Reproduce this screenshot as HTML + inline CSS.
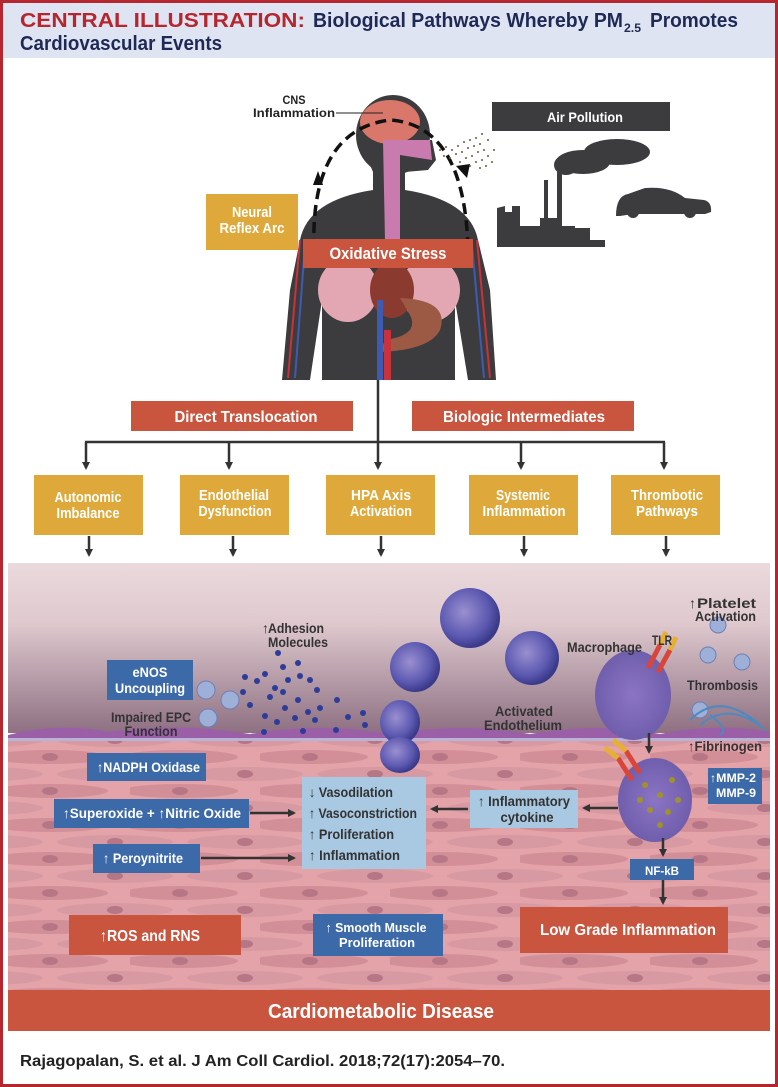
<!DOCTYPE html>
<html><head><meta charset="utf-8"><style>
html,body{margin:0;padding:0;background:#fff}
svg{display:block}
text{font-family:"Liberation Sans Narrow","Liberation Sans",sans-serif;font-weight:bold}
</style></head><body>
<svg width="778" height="1087" viewBox="0 0 778 1087" xmlns="http://www.w3.org/2000/svg">
<defs>
<linearGradient id="lum" x1="0" y1="0" x2="0" y2="1">
<stop offset="0" stop-color="#ead9dd"/><stop offset="0.35" stop-color="#dfc9ce"/><stop offset="0.75" stop-color="#ad93a0"/><stop offset="1" stop-color="#8e7082"/></linearGradient>
<radialGradient id="cell" cx="0.4" cy="0.4" r="0.6"><stop offset="0" stop-color="#9a8fd0"/><stop offset="0.7" stop-color="#5b58b0"/><stop offset="1" stop-color="#3a3a8a"/></radialGradient>
<radialGradient id="mac" cx="0.5" cy="0.5" r="0.6"><stop offset="0" stop-color="#8b74c4"/><stop offset="1" stop-color="#6a5aa8"/></radialGradient>
<marker id="ah" markerWidth="8" markerHeight="8" refX="6" refY="4" orient="auto" markerUnits="userSpaceOnUse"><path d="M0,0 L8,4 L0,8 z" fill="#333"/></marker>
<pattern id="sm" width="130" height="34" patternUnits="userSpaceOnUse">
<rect width="130" height="34" fill="#e4a3a9"/>
<ellipse cx="50" cy="9" rx="58" ry="7" fill="#d38f98"/>
<ellipse cx="50" cy="9" rx="8" ry="4" fill="#b77685"/>
<ellipse cx="115" cy="26" rx="58" ry="7" fill="#d89aa2"/>
<ellipse cx="115" cy="26" rx="8" ry="4" fill="#b77685"/>
<ellipse cx="-15" cy="26" rx="58" ry="7" fill="#d89aa2"/>
</pattern>
</defs>
<rect x="1.5" y="1.5" width="775" height="1084" fill="#fff" stroke="#b5262e" stroke-width="3"/>
<rect x="3" y="3" width="772" height="55" fill="#dfe4f2"/>
<g lengthAdjust="spacingAndGlyphs">
<text x="20" y="27" font-size="20" fill="#b5262e" textLength="285" lengthAdjust="spacingAndGlyphs">CENTRAL ILLUSTRATION:</text>
<text x="313" y="27" font-size="20" fill="#1e2a55" textLength="310" lengthAdjust="spacingAndGlyphs">Biological Pathways Whereby PM</text>
<text x="624" y="32" font-size="12" fill="#1e2a55" textLength="17" lengthAdjust="spacingAndGlyphs">2.5</text>
<text x="650" y="27" font-size="20" fill="#1e2a55" textLength="88" lengthAdjust="spacingAndGlyphs">Promotes</text>
<text x="20" y="50" font-size="20" fill="#1e2a55" textLength="202" lengthAdjust="spacingAndGlyphs">Cardiovascular Events</text>
</g>

<!-- body -->
<g fill="#3c3c3e">
<ellipse cx="393" cy="135" rx="37" ry="40"/>
<path d="M360,140 L432,140 L436,160 L428,170 L405,172 L405,195 L373,195 L373,172 Z"/>
<path d="M373,190 L405,190 Q470,200 478,240 L490,290 L496,380 L468,380 L455,300 L455,380 L322,380 L322,300 L310,380 L282,380 L290,290 L300,240 Q308,200 373,190 Z"/>
</g>
<ellipse cx="390" cy="122" rx="30" ry="22" fill="#d9786a"/>
<path d="M383,140 L430,140 L432,160 L400,155 L400,240 L385,240 Z" fill="#c97bb0"/>
<ellipse cx="348" cy="290" rx="30" ry="32" fill="#e2a7b2"/>
<ellipse cx="430" cy="290" rx="30" ry="32" fill="#e2a7b2"/>
<ellipse cx="392" cy="290" rx="22" ry="28" fill="#8a3a2e"/>
<path d="M400,298 Q450,300 440,330 Q430,350 380,352 L385,340 Q420,335 410,315 Z" fill="#9c5a45"/>
<rect x="377" y="300" width="6" height="80" fill="#3d5bb0"/>
<rect x="384" y="330" width="7" height="50" fill="#c8323a"/>
<g stroke="#c8323a" stroke-width="2" fill="none"><path d="M300,240 L288,378"/><path d="M477,240 L490,378"/></g>
<g stroke="#3d5bb0" stroke-width="2" fill="none"><path d="M305,245 L295,378"/><path d="M472,245 L484,378"/></g>
<path d="M314,250 Q310,130 390,120 Q465,125 468,250" fill="none" stroke="#111" stroke-width="3.5" stroke-dasharray="11,6"/>
<path d="M313,185 l10,0 l-5,-14 z" fill="#111"/>
<path d="M456,166 l14,-2 l-3,14 z" fill="#111"/>
<text x="294" y="104" font-size="12" text-anchor="middle" fill="#222" textLength="23" lengthAdjust="spacingAndGlyphs">CNS</text>
<text x="294" y="117" font-size="12" text-anchor="middle" fill="#222" textLength="82" lengthAdjust="spacingAndGlyphs">Inflammation</text>
<line x1="336" y1="113" x2="383" y2="113" stroke="#222" stroke-width="1"/>
<g fill="#6b5a3a">
<circle cx="440" cy="150" r="1"/><circle cx="446" cy="147" r="1"/><circle cx="452" cy="150" r="1"/><circle cx="458" cy="146" r="1"/><circle cx="464" cy="142" r="1"/><circle cx="470" cy="140" r="1"/><circle cx="476" cy="138" r="1"/><circle cx="444" cy="156" r="1"/><circle cx="450" cy="158" r="1"/><circle cx="456" cy="154" r="1"/><circle cx="462" cy="152" r="1"/><circle cx="468" cy="148" r="1"/><circle cx="474" cy="146" r="1"/><circle cx="480" cy="144" r="1"/><circle cx="460" cy="162" r="1"/><circle cx="466" cy="158" r="1"/><circle cx="472" cy="156" r="1"/><circle cx="478" cy="152" r="1"/><circle cx="484" cy="150" r="1"/><circle cx="470" cy="166" r="1"/><circle cx="476" cy="162" r="1"/><circle cx="482" cy="160" r="1"/><circle cx="488" cy="156" r="1"/><circle cx="480" cy="168" r="1"/><circle cx="486" cy="166" r="1"/><circle cx="492" cy="162" r="1"/><circle cx="482" cy="134" r="1"/><circle cx="488" cy="140" r="1"/><circle cx="494" cy="150" r="1"/>
</g>
<rect x="492" y="102" width="178" height="29" fill="#3c3c3e"/>
<text x="585" y="122" font-size="14" text-anchor="middle" fill="#fff" textLength="76" lengthAdjust="spacingAndGlyphs">Air Pollution</text>
<g fill="#3c3c3e">
<ellipse cx="617" cy="152" rx="33" ry="13"/><ellipse cx="583" cy="162" rx="27" ry="12"/><ellipse cx="566" cy="165" rx="12" ry="10"/>
<rect x="557" y="172" width="5" height="60"/><rect x="544" y="180" width="4" height="52"/>
<path d="M497,247 L497,208 L505,206 L505,212 L512,212 L512,206 L520,206 L520,226 L540,226 L540,218 L560,218 L560,226 L575,226 L575,228 L590,228 L590,240 L605,240 L605,247 Z"/>
<path d="M616,216 Q616,196 628,194 L645,188 Q670,186 685,198 L704,200 Q712,202 711,212 L705,214 L640,214 Q630,214 620,216 Z"/>
<circle cx="633" cy="212" r="6"/><circle cx="690" cy="212" r="6"/>
</g>
<rect x="206" y="194" width="92" height="56" fill="#dfa83a"/>
<text x="252" y="217" font-size="15" text-anchor="middle" fill="#fff" textLength="40" lengthAdjust="spacingAndGlyphs">Neural</text>
<text x="252" y="233" font-size="15" text-anchor="middle" fill="#fff" textLength="65" lengthAdjust="spacingAndGlyphs">Reflex Arc</text>
<rect x="303" y="239" width="170" height="29" fill="#c9553e"/>
<text x="388" y="259" font-size="17" text-anchor="middle" fill="#fff" textLength="117" lengthAdjust="spacingAndGlyphs">Oxidative Stress</text>

<line x1="378" y1="380" x2="378" y2="468" stroke="#333" stroke-width="2.5" marker-end="url(#ah)"/>
<rect x="131" y="401" width="222" height="30" fill="#c9553e"/>
<text x="246" y="422" font-size="16" text-anchor="middle" fill="#fff" textLength="143" lengthAdjust="spacingAndGlyphs">Direct Translocation</text>
<rect x="412" y="401" width="222" height="30" fill="#c9553e"/>
<text x="524" y="422" font-size="16" text-anchor="middle" fill="#fff" textLength="162" lengthAdjust="spacingAndGlyphs">Biologic Intermediates</text>
<line x1="85" y1="442" x2="665" y2="442" stroke="#333" stroke-width="2.5"/>
<g stroke="#333" stroke-width="2.5" marker-end="url(#ah)">
<line x1="86" y1="442" x2="86" y2="468"/><line x1="229" y1="442" x2="229" y2="468"/><line x1="521" y1="442" x2="521" y2="468"/><line x1="664" y1="442" x2="664" y2="468"/>
<line x1="89" y1="536" x2="89" y2="555"/><line x1="233" y1="536" x2="233" y2="555"/><line x1="381" y1="536" x2="381" y2="555"/><line x1="524" y1="536" x2="524" y2="555"/><line x1="666" y1="536" x2="666" y2="555"/>
</g>
<g fill="#dfa83a">
<rect x="34" y="475" width="109" height="60"/><rect x="180" y="475" width="109" height="60"/><rect x="326" y="475" width="109" height="60"/><rect x="469" y="475" width="109" height="60"/><rect x="611" y="475" width="109" height="60"/>
</g>
<g font-size="15" fill="#fff" text-anchor="middle" lengthAdjust="spacingAndGlyphs">
<text x="88" y="502" textLength="67" lengthAdjust="spacingAndGlyphs">Autonomic</text><text x="88" y="518" textLength="63" lengthAdjust="spacingAndGlyphs">Imbalance</text>
<text x="234" y="500" textLength="70" lengthAdjust="spacingAndGlyphs">Endothelial</text><text x="235" y="516" textLength="73" lengthAdjust="spacingAndGlyphs">Dysfunction</text>
<text x="381" y="500" textLength="60" lengthAdjust="spacingAndGlyphs">HPA Axis</text><text x="381" y="516" textLength="62" lengthAdjust="spacingAndGlyphs">Activation</text>
<text x="523" y="500" textLength="54" lengthAdjust="spacingAndGlyphs">Systemic</text><text x="524" y="516" textLength="83" lengthAdjust="spacingAndGlyphs">Inflammation</text>
<text x="667" y="500" textLength="72" lengthAdjust="spacingAndGlyphs">Thrombotic</text><text x="667" y="516" textLength="62" lengthAdjust="spacingAndGlyphs">Pathways</text>
</g>

<rect x="8" y="563" width="762" height="170" fill="url(#lum)"/>
<rect x="8" y="738" width="762" height="252" fill="url(#sm)"/>
<path d="M8,735 Q60,722 110,732 Q180,722 250,734 Q320,722 390,734 Q460,722 530,734 Q600,722 660,734 Q720,722 770,732 L770,740 L8,740 Z" fill="#9b5fa8"/>
<rect x="8" y="738" width="762" height="3" fill="#b9b3d8"/>
<rect x="8" y="990" width="762" height="41" fill="#c9553e"/>
<text x="381" y="1018" font-size="20" text-anchor="middle" fill="#fff" textLength="226" lengthAdjust="spacingAndGlyphs">Cardiometabolic Disease</text>

<circle cx="415" cy="667" r="25" fill="url(#cell)"/><circle cx="470" cy="618" r="30" fill="url(#cell)"/><circle cx="532" cy="658" r="27" fill="url(#cell)"/>
<ellipse cx="400" cy="722" rx="20" ry="22" fill="url(#cell)"/><ellipse cx="400" cy="755" rx="20" ry="18" fill="url(#cell)"/>
<ellipse cx="633" cy="695" rx="38" ry="45" fill="url(#mac)"/>
<ellipse cx="655" cy="800" rx="37" ry="42" fill="url(#mac)"/>
<g fill="#a0922a"><circle cx="645" cy="785" r="3"/><circle cx="660" cy="795" r="3"/><circle cx="672" cy="780" r="3"/><circle cx="650" cy="810" r="3"/><circle cx="668" cy="812" r="3"/><circle cx="640" cy="800" r="3"/><circle cx="678" cy="800" r="3"/><circle cx="660" cy="825" r="3"/></g>
<g stroke-width="5"><line x1="648" y1="668" x2="660" y2="645" stroke="#d8453a"/><line x1="658" y1="672" x2="670" y2="650" stroke="#d8453a"/><line x1="660" y1="645" x2="666" y2="632" stroke="#e8b030"/><line x1="670" y1="650" x2="676" y2="637" stroke="#e8b030"/>
<line x1="632" y1="780" x2="618" y2="758" stroke="#d8453a"/><line x1="640" y1="773" x2="626" y2="751" stroke="#d8453a"/><line x1="618" y1="758" x2="605" y2="748" stroke="#e8b030"/><line x1="626" y1="751" x2="613" y2="740" stroke="#e8b030"/></g>
<g fill="#9fb0d8" stroke="#6d7fb4"><circle cx="206" cy="690" r="9"/><circle cx="230" cy="700" r="9"/><circle cx="208" cy="718" r="9"/><circle cx="718" cy="625" r="8"/><circle cx="708" cy="655" r="8"/><circle cx="742" cy="662" r="8"/><circle cx="700" cy="710" r="8"/></g>
<path d="M690,720 Q720,690 760,725 M700,725 Q730,700 765,730 M710,715 Q730,730 720,735" stroke="#4c8ac0" stroke-width="2" fill="none"/>
<g fill="#2d3c99">
<circle cx="278" cy="653" r="3"/><circle cx="283" cy="667" r="3"/><circle cx="298" cy="663" r="3"/><circle cx="265" cy="674" r="3"/><circle cx="288" cy="680" r="3"/><circle cx="300" cy="676" r="3"/><circle cx="310" cy="680" r="3"/><circle cx="275" cy="688" r="3"/><circle cx="245" cy="677" r="3"/><circle cx="257" cy="681" r="3"/><circle cx="243" cy="692" r="3"/><circle cx="283" cy="692" r="3"/><circle cx="317" cy="690" r="3"/><circle cx="270" cy="697" r="3"/><circle cx="298" cy="700" r="3"/><circle cx="337" cy="700" r="3"/><circle cx="285" cy="708" r="3"/><circle cx="308" cy="712" r="3"/><circle cx="320" cy="708" r="3"/><circle cx="265" cy="716" r="3"/><circle cx="295" cy="718" r="3"/><circle cx="315" cy="720" r="3"/><circle cx="348" cy="717" r="3"/><circle cx="277" cy="722" r="3"/><circle cx="363" cy="713" r="3"/><circle cx="365" cy="725" r="3"/><circle cx="264" cy="732" r="3"/><circle cx="303" cy="731" r="3"/><circle cx="336" cy="730" r="3"/><circle cx="250" cy="705" r="3"/>
</g>
<g font-size="14" fill="#333" font-weight="normal">
<text x="262" y="633">↑</text><text x="268" y="633" textLength="56" lengthAdjust="spacingAndGlyphs">Adhesion</text><text x="268" y="647" textLength="60" lengthAdjust="spacingAndGlyphs">Molecules</text>
<text x="151" y="722" text-anchor="middle" textLength="80" lengthAdjust="spacingAndGlyphs">Impaired EPC</text><text x="151" y="736" text-anchor="middle" textLength="53" lengthAdjust="spacingAndGlyphs">Function</text>
<text x="524" y="716" text-anchor="middle" textLength="58" lengthAdjust="spacingAndGlyphs">Activated</text><text x="523" y="730" text-anchor="middle" textLength="78" lengthAdjust="spacingAndGlyphs">Endothelium</text>
<text x="567" y="652" textLength="75" lengthAdjust="spacingAndGlyphs">Macrophage</text><text x="652" y="645" textLength="20" lengthAdjust="spacingAndGlyphs">TLR</text>
<text x="689" y="608">↑</text><text x="697" y="608" textLength="59" lengthAdjust="spacingAndGlyphs">Platelet</text><text x="695" y="621" textLength="61" lengthAdjust="spacingAndGlyphs">Activation</text>
<text x="688" y="751" textLength="74" lengthAdjust="spacingAndGlyphs">↑Fibrinogen</text>
</g>
<text x="687" y="690" font-size="14" fill="#333" textLength="71" lengthAdjust="spacingAndGlyphs">Thrombosis</text>
<g fill="#3c6aa9">
<rect x="107" y="660" width="86" height="40"/><rect x="87" y="753" width="119" height="28"/><rect x="54" y="799" width="195" height="29"/><rect x="93" y="844" width="107" height="29"/><rect x="708" y="768" width="54" height="36"/><rect x="630" y="859" width="64" height="21"/><rect x="313" y="914" width="130" height="42"/>
</g>
<g fill="#fff" font-size="14" font-weight="normal">
<text x="150" y="677" text-anchor="middle" textLength="35" lengthAdjust="spacingAndGlyphs">eNOS</text><text x="150" y="693" text-anchor="middle" textLength="70" lengthAdjust="spacingAndGlyphs">Uncoupling</text>
<text x="97" y="772" textLength="103" lengthAdjust="spacingAndGlyphs">↑NADPH Oxidase</text>
<text x="63" y="818" textLength="178" lengthAdjust="spacingAndGlyphs">↑Superoxide   +  ↑Nitric Oxide</text>
<text x="103" y="863" textLength="80" lengthAdjust="spacingAndGlyphs">↑ Peroynitrite</text>
<text x="710" y="782" font-size="12" textLength="46" lengthAdjust="spacingAndGlyphs">↑MMP-2</text><text x="716" y="797" font-size="12" textLength="40" lengthAdjust="spacingAndGlyphs">MMP-9</text>
<text x="662" y="875" text-anchor="middle" font-size="12" textLength="34" lengthAdjust="spacingAndGlyphs">NF-kB</text>
<text x="376" y="932" text-anchor="middle" font-size="13" textLength="101" lengthAdjust="spacingAndGlyphs">↑ Smooth Muscle</text><text x="377" y="947" text-anchor="middle" font-size="13" textLength="76" lengthAdjust="spacingAndGlyphs">Proliferation</text>
</g>
<rect x="302" y="777" width="124" height="92" fill="#a9c8e2"/>
<g fill="#333" font-size="14" font-weight="normal">
<text x="309" y="797" textLength="84" lengthAdjust="spacingAndGlyphs">↓ Vasodilation</text><text x="309" y="818" textLength="108" lengthAdjust="spacingAndGlyphs">↑ Vasoconstriction</text><text x="309" y="839" textLength="85" lengthAdjust="spacingAndGlyphs">↑ Proliferation</text><text x="309" y="860" textLength="91" lengthAdjust="spacingAndGlyphs">↑ Inflammation</text>
</g>
<rect x="470" y="790" width="108" height="38" fill="#a9c8e2"/>
<g fill="#333" font-size="14" font-weight="normal"><text x="478" y="806" textLength="92" lengthAdjust="spacingAndGlyphs">↑ Inflammatory</text><text x="527" y="822" text-anchor="middle" textLength="53" lengthAdjust="spacingAndGlyphs">cytokine</text></g>
<g stroke="#333" stroke-width="2.5" marker-end="url(#ah)">
<line x1="250" y1="813" x2="294" y2="813"/><line x1="201" y1="858" x2="294" y2="858"/>
<line x1="468" y1="809" x2="432" y2="809"/><line x1="618" y1="808" x2="584" y2="808"/>
<line x1="649" y1="733" x2="649" y2="752"/><line x1="663" y1="838" x2="663" y2="855"/><line x1="663" y1="880" x2="663" y2="903"/>
</g>
<rect x="69" y="915" width="172" height="40" fill="#c9553e"/>
<text x="150" y="941" font-size="16" text-anchor="middle" fill="#fff" textLength="100" lengthAdjust="spacingAndGlyphs">↑ROS and RNS</text>
<rect x="520" y="907" width="208" height="46" fill="#c9553e"/>
<text x="628" y="935" font-size="16" text-anchor="middle" fill="#fff" textLength="176" lengthAdjust="spacingAndGlyphs">Low Grade Inflammation</text>
<text x="20" y="1066" font-size="16" fill="#222" font-weight="normal" textLength="485" lengthAdjust="spacingAndGlyphs">Rajagopalan, S. et al. J Am Coll Cardiol. 2018;72(17):2054–70.</text>
</svg>
</body></html>
